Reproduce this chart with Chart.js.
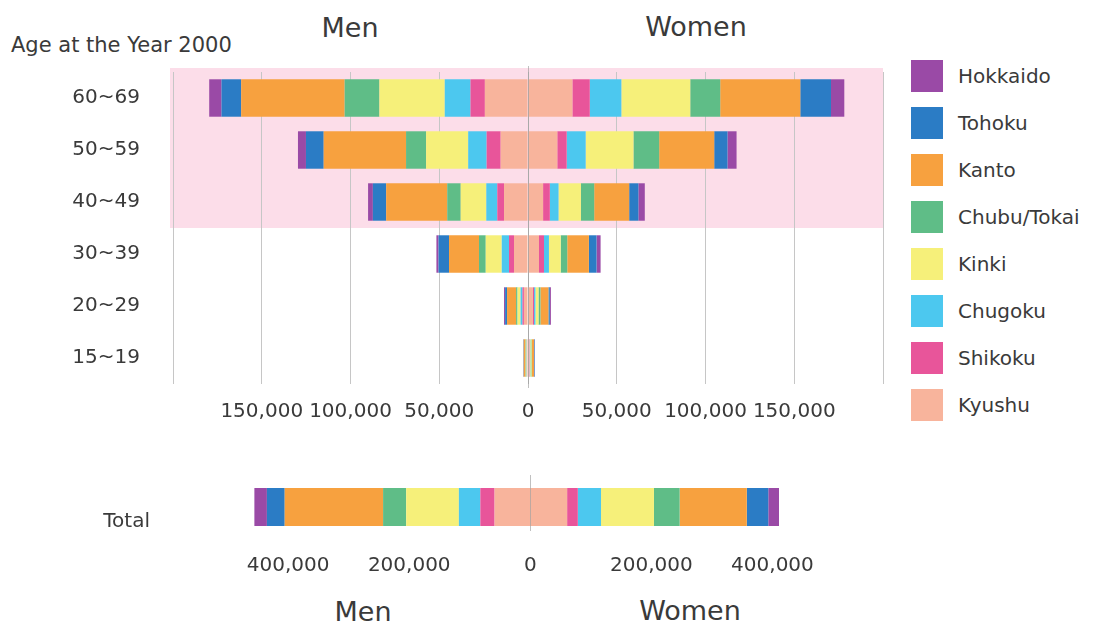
<!DOCTYPE html>
<html>
<head>
<meta charset="utf-8">
<script src="https://cdn.jsdelivr.net/npm/chart.js@4"></script>
<style>
  html, body { margin:0; padding:0; background:#fff; }
  #wrap { position:relative; width:1095px; height:625px; overflow:hidden; font-family:'DejaVu Sans', sans-serif; color:#3a3a3a; }
  .txt { position:absolute; white-space:nowrap; line-height:1; }
  .big { font-size:27px; transform:translate(-50%,-50%); }
  #topChart { position:absolute; left:0; top:0; }
  #totalChart { position:absolute; left:0; top:440px; }
  .lg-box { position:absolute; width:32px; height:32px; }
  .lg-txt { position:absolute; font-size:20px; transform:translateY(-50%); }
</style>
</head>
<body>
<div id="wrap">
  <div class="txt" style="left:11px; top:35px; font-size:21px;">Age at the Year 2000</div>
  <div class="txt big" style="left:350px; top:27px;">Men</div>
  <div class="txt big" style="left:696px; top:26px;">Women</div>
  <div class="txt big" style="left:363px; top:611px;">Men</div>
  <div class="txt big" style="left:690px; top:610px;">Women</div>
  <canvas id="topChart" width="900" height="440"></canvas>
  <canvas id="totalChart" width="900" height="185"></canvas>
  <div id="legend"></div>
</div>
<script>
// ---- data ----
const ageGroups = ['60~69', '50~59', '40~49', '30~39', '20~29', '15~19'];
const regions = ['Hokkaido', 'Tohoku', 'Kanto', 'Chubu/Tokai', 'Kinki', 'Chugoku', 'Shikoku', 'Kyushu'];
const regionColors = ['#9a4aa6', '#2b7cc5', '#f7a13f', '#5fbd87', '#f6f07a', '#4cc8ef', '#e8559a', '#f8b49c'];

// men, per region, by age group (60~69 ... 15~19)
const menHokkaido = [6900, 4500, 2700, 1200, 600, 100];
const menTohoku   = [11100, 10000, 7500, 5900, 1100, 200];
const menKanto    = [58300, 46400, 34400, 16900, 5100, 1000];
const menChubu    = [19600, 11300, 7600, 3800, 800, 200];
const menKinki    = [36800, 23700, 14400, 9000, 1700, 400];
const menChugoku  = [14500, 10400, 6200, 4100, 1100, 200];
const menShikoku  = [8100, 7900, 3800, 2800, 800, 100];
const menKyushu   = [24300, 15400, 13500, 7900, 2300, 500];

// women, per region, by age group
const womenHokkaido = [7500, 5100, 3600, 2300, 600, 200];
const womenTohoku   = [17300, 7500, 5200, 4300, 800, 300];
const womenKanto    = [45100, 31000, 19700, 12200, 4500, 1200];
const womenChubu    = [16900, 14500, 7500, 3700, 1100, 300];
const womenKinki    = [38800, 26900, 12600, 6600, 1700, 600];
const womenChugoku  = [17800, 10700, 4900, 2800, 800, 300];
const womenShikoku  = [9800, 5300, 3800, 2800, 600, 200];
const womenKyushu   = [25000, 16500, 8500, 6200, 2800, 800];

// totals per region (same order as regions)
const totalMen   = [20700, 29400, 162500, 38200, 87000, 35400, 23600, 59000];
const totalWomen = [17700, 35500, 110900, 42500, 87400, 38300, 17700, 60800];

const topTicks = [-200000, -150000, -100000, -50000, 0, 50000, 100000, 150000, 200000];
const totalTicks = [-400000, -200000, 0, 200000, 400000];

const menByRegion = [menHokkaido, menTohoku, menKanto, menChubu, menKinki, menChugoku, menShikoku, menKyushu];
const womenByRegion = [womenHokkaido, womenTohoku, womenKanto, womenChubu, womenKinki, womenChugoku, womenShikoku, womenKyushu];

Chart.defaults.font.family = "'DejaVu Sans', sans-serif";
Chart.defaults.font.size = 20;
Chart.defaults.color = '#3a3a3a';

const fmt = v => Math.abs(v).toLocaleString('en-US');

// pink band behind the three oldest groups
const pinkBand = {
    id: 'pinkBand',
    beforeDraw(chart) {
        const a = chart.chartArea;
        const y = chart.scales.y;
        const half = (y.getPixelForValue(1) - y.getPixelForValue(0)) / 2;
        const ctx = chart.ctx;
        ctx.save();
        ctx.fillStyle = '#fcdde9';
        ctx.fillRect(a.left - 3, a.top - 4, a.right - a.left + 3, y.getPixelForValue(2) + half - a.top + 4);
        ctx.restore();
    }
};

// thin zero line drawn over the bars
const zeroLine = {
    id: 'zeroLine',
    afterDatasetsDraw(chart) {
        const y = chart.scales.y;
        const isTotal = chart.canvas.id === 'totalChart';
        const top = isTotal ? y.getPixelForValue(0) - 32 : chart.chartArea.top - 6;
        const bottom = isTotal ? y.getPixelForValue(0) + 24 : chart.chartArea.bottom + 4;
        const x = Math.round(chart.scales.x.getPixelForValue(0)) + 0.5;
        const ctx = chart.ctx;
        ctx.save();
        ctx.strokeStyle = 'rgba(150,150,150,0.6)';
        ctx.lineWidth = 1;
        ctx.beginPath();
        ctx.moveTo(x, top);
        ctx.lineTo(x, bottom);
        ctx.stroke();
        ctx.restore();
    }
};

// datasets: Kyushu first so it sits next to zero, Hokkaido outermost
function buildSets(menArr, womenArr) {
    const sets = [];
    for (let i = regions.length - 1; i >= 0; i--) {
        sets.push({ label: regions[i] + ' (Men)', data: menArr[i].map(v => -v), backgroundColor: regionColors[i], stack: 'p' });
        sets.push({ label: regions[i] + ' (Women)', data: womenArr[i], backgroundColor: regionColors[i], stack: 'p' });
    }
    return sets;
}

new Chart(document.getElementById('topChart'), {
    type: 'bar',
    data: { labels: ageGroups, datasets: buildSets(menByRegion, womenByRegion) },
    options: {
        indexAxis: 'y',
        responsive: false,
        animation: false,
        categoryPercentage: 1,
        barPercentage: 0.72,
        layout: { padding: { top: 72, right: 17, bottom: 0, left: 0 } },
        plugins: { legend: { display: false }, tooltip: { enabled: false } },
        scales: {
            x: {
                stacked: true,
                min: -200000, max: 200000,
                afterBuildTicks: s => { s.ticks = topTicks.map(v => ({ value: v })); },
                ticks: { padding: 16, maxRotation: 0, autoSkip: false,
                         callback: v => (Math.abs(v) === 200000 ? '' : fmt(v)) },
                grid: { color: '#c6c6c6', drawTicks: false },
                border: { display: false }
            },
            y: {
                stacked: true,
                afterFit: s => { s.width = 173; },
                ticks: { padding: 33 },
                grid: { display: false, drawTicks: false },
                border: { display: false }
            }
        }
    },
    plugins: [pinkBand, zeroLine]
});

new Chart(document.getElementById('totalChart'), {
    type: 'bar',
    data: {
        labels: ['Total'],
        datasets: buildSets(totalMen.map(v => [v]), totalWomen.map(v => [v]))
    },
    options: {
        indexAxis: 'y',
        responsive: false,
        animation: false,
        categoryPercentage: 1,
        barPercentage: 0.475,
        layout: { padding: { top: 27, right: 67, bottom: 40, left: 0 } },
        plugins: { legend: { display: false }, tooltip: { enabled: false } },
        scales: {
            x: {
                stacked: true,
                min: -615000, max: 500000,
                afterBuildTicks: s => { s.ticks = totalTicks.map(v => ({ value: v })); },
                ticks: { padding: 7, maxRotation: 0, autoSkip: false, callback: v => fmt(v) },
                grid: { display: false, drawTicks: false },
                border: { display: false }
            },
            y: {
                stacked: true,
                afterFit: s => { s.width = 158; },
                ticks: { padding: 8, labelOffset: 15 },
                grid: { display: false, drawTicks: false },
                border: { display: false }
            }
        }
    },
    plugins: [zeroLine]
});

// legend (Hokkaido on top)
const legend = document.getElementById('legend');
regions.forEach((r, i) => {
    const top = 60 + i * 47;
    legend.insertAdjacentHTML('beforeend',
        `<div class="lg-box" style="left:911px; top:${top}px; background:${regionColors[i]};"></div>` +
        `<div class="txt lg-txt" style="left:958px; top:${top + 16}px;">${r}</div>`);
});
</script>
</body>
</html>
